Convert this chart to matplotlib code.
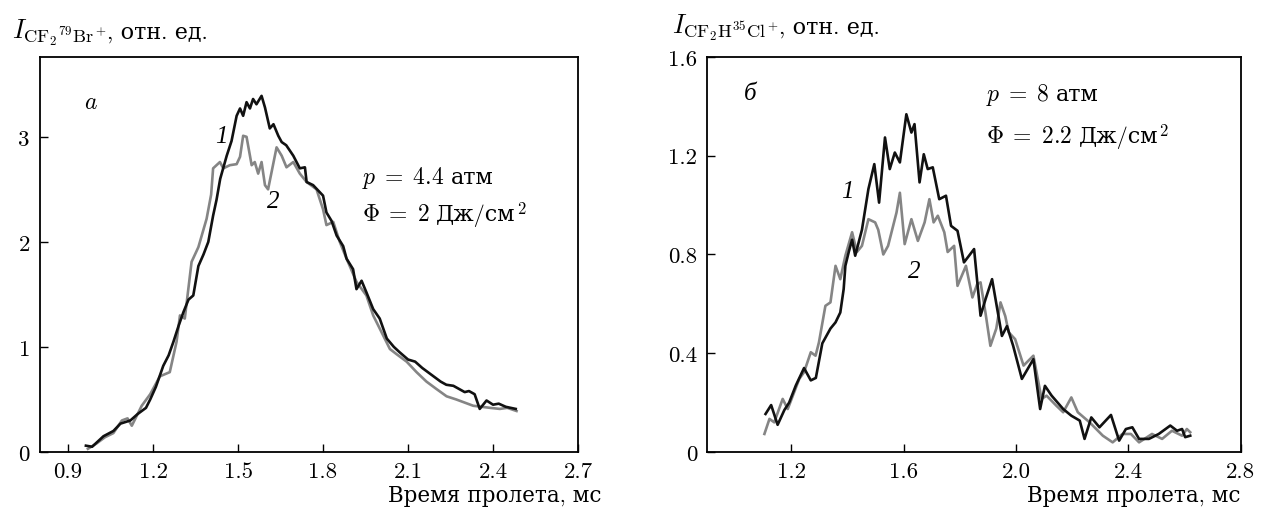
import numpy as np
from matplotlib import pyplot as plt
from matplotlib.offsetbox import TextArea, HPacker, AnnotationBbox

# панель а: CF2(79)Br+, p = 4.4 атм
t_a1 = [0.963, 0.985, 1.025, 1.06, 1.085, 1.12, 1.145, 1.175, 1.19, 1.21, 1.236, 1.255, 1.272, 1.29,
        1.307, 1.325, 1.342, 1.36, 1.378, 1.395, 1.412, 1.424, 1.437, 1.46, 1.477, 1.495, 1.507, 1.518,
        1.53, 1.542, 1.553, 1.565, 1.583, 1.595, 1.612, 1.625, 1.642, 1.654, 1.67, 1.695, 1.718, 1.736,
        1.742, 1.765, 1.8, 1.812, 1.83, 1.848, 1.871, 1.883, 1.906, 1.918, 1.936, 1.953, 1.977, 2.0,
        2.025, 2.05, 2.07, 2.1, 2.125, 2.15, 2.17, 2.19, 2.215, 2.235, 2.26, 2.28, 2.3, 2.315, 2.335,
        2.353, 2.377, 2.4, 2.42, 2.445, 2.48]
i_a1 = [0.06, 0.05, 0.15, 0.2, 0.27, 0.3, 0.36, 0.42, 0.5, 0.62, 0.82, 0.92, 1.05, 1.2,
        1.33, 1.45, 1.49, 1.77, 1.88, 2.0, 2.25, 2.4, 2.6, 2.82, 2.96, 3.2, 3.27, 3.2,
        3.33, 3.27, 3.36, 3.31, 3.39, 3.28, 3.08, 3.12, 3.01, 2.95, 2.92, 2.82, 2.7, 2.71,
        2.57, 2.54, 2.44, 2.28, 2.2, 2.06, 1.96, 1.84, 1.74, 1.55, 1.63, 1.52, 1.36, 1.27,
        1.08, 1.0, 0.95, 0.88, 0.86, 0.8, 0.76, 0.72, 0.67, 0.64, 0.63, 0.6, 0.57, 0.58, 0.55,
        0.41, 0.49, 0.45, 0.46, 0.43, 0.41]
t_a2 = [0.97, 1.0, 1.03, 1.06, 1.09, 1.11, 1.125, 1.16, 1.19, 1.224, 1.259, 1.283, 1.295, 1.312,
        1.336, 1.36, 1.389, 1.405, 1.412, 1.436, 1.448, 1.471, 1.495, 1.507, 1.518, 1.53, 1.542,
        1.548, 1.559, 1.571, 1.583, 1.595, 1.606, 1.618, 1.636, 1.654, 1.671, 1.695, 1.718, 1.742,
        1.777, 1.8, 1.812, 1.836, 1.859, 1.883, 1.918, 1.953, 1.977, 2.036, 2.06, 2.095, 2.13,
        2.165, 2.2, 2.236, 2.27, 2.3, 2.33, 2.36, 2.39, 2.424, 2.45, 2.483]
i_a2 = [0.03, 0.08, 0.14, 0.18, 0.3, 0.32, 0.25, 0.44, 0.55, 0.72, 0.76, 1.05, 1.3, 1.27,
        1.81, 1.95, 2.22, 2.45, 2.7, 2.76, 2.7, 2.73, 2.74, 2.81, 3.01, 3.0, 2.82,
        2.73, 2.76, 2.65, 2.76, 2.54, 2.5, 2.66, 2.9, 2.82, 2.71, 2.76, 2.65, 2.57,
        2.5, 2.31, 2.16, 2.19, 2.0, 1.84, 1.62, 1.49, 1.3, 0.98, 0.93, 0.86, 0.76,
        0.67, 0.6, 0.53, 0.5, 0.47, 0.44, 0.43, 0.42, 0.41, 0.42, 0.39]

# панель б: CF2H(35)Cl+, p = 8 атм
t_b1 = [1.109, 1.129, 1.152, 1.176, 1.193, 1.217, 1.246, 1.27, 1.288, 1.311, 1.34, 1.358, 1.375,
        1.387, 1.393, 1.405, 1.417, 1.428, 1.452, 1.475, 1.496, 1.513, 1.534, 1.551, 1.569, 1.587,
        1.61, 1.628, 1.639, 1.657, 1.672, 1.686, 1.704, 1.727, 1.751, 1.769, 1.792, 1.815, 1.851,
        1.874, 1.892, 1.915, 1.95, 1.968, 1.99, 2.021, 2.062, 2.086, 2.103, 2.127, 2.168, 2.197,
        2.227, 2.244, 2.268, 2.297, 2.338, 2.367, 2.391, 2.414, 2.438, 2.473, 2.508, 2.549, 2.573,
        2.591, 2.602, 2.62]
i_b1 = [0.154, 0.19, 0.11, 0.17, 0.2, 0.27, 0.34, 0.29, 0.3, 0.44, 0.5, 0.525, 0.565,
        0.66, 0.754, 0.81, 0.86, 0.795, 0.9, 1.065, 1.166, 1.01, 1.274, 1.146, 1.213, 1.173,
        1.368, 1.294, 1.328, 1.092, 1.206, 1.146, 1.153, 1.024, 1.038, 0.916, 0.896, 0.768, 0.822,
        0.552, 0.62, 0.7, 0.47, 0.51, 0.43, 0.296, 0.376, 0.174, 0.268, 0.228, 0.174, 0.147,
        0.127, 0.053, 0.14, 0.1, 0.15, 0.046, 0.093, 0.1, 0.053, 0.053, 0.073, 0.107, 0.086,
        0.093, 0.06, 0.066]
t_b2 = [1.105, 1.123, 1.14, 1.17, 1.188, 1.229, 1.246, 1.27, 1.287, 1.299, 1.322, 1.34, 1.358,
        1.375, 1.393, 1.417, 1.434, 1.452, 1.475, 1.499, 1.51, 1.528, 1.545, 1.575, 1.587, 1.604,
        1.628, 1.651, 1.675, 1.692, 1.707, 1.722, 1.745, 1.757, 1.78, 1.792, 1.822, 1.845, 1.862,
        1.874, 1.892, 1.909, 1.93, 1.945, 1.962, 1.974, 1.997, 2.027, 2.062, 2.091, 2.109, 2.144,
        2.168, 2.197, 2.22, 2.262, 2.309, 2.344, 2.379, 2.409, 2.438, 2.484, 2.52, 2.555, 2.591,
        2.608, 2.62]
i_b2 = [0.073, 0.134, 0.12, 0.215, 0.174, 0.296, 0.323, 0.404, 0.39, 0.444, 0.592, 0.606, 0.754,
        0.7, 0.795, 0.89, 0.81, 0.835, 0.943, 0.93, 0.9, 0.8, 0.835, 0.97, 1.05, 0.842,
        0.943, 0.855, 0.93, 1.024, 0.93, 0.957, 0.89, 0.81, 0.835, 0.673, 0.754, 0.626, 0.68,
        0.687, 0.56, 0.43, 0.5, 0.606, 0.55, 0.485, 0.457, 0.35, 0.39, 0.215, 0.228, 0.187,
        0.161, 0.221, 0.161, 0.12, 0.066, 0.039, 0.073, 0.073, 0.039, 0.073, 0.053, 0.086, 0.066,
        0.093, 0.08]

xticks_a = [0.9, 1.2, 1.5, 1.8, 2.1, 2.4, 2.7]
yticks_a = [0, 1, 2, 3]
xticks_b = [1.2, 1.6, 2.0, 2.4, 2.8]
yticks_b = [0, 0.4, 0.8, 1.2, 1.6]

plt.rcParams['font.family'] = ['cmr10', 'DejaVu Serif']
plt.rcParams['mathtext.fontset'] = 'cm'
plt.rcParams['axes.formatter.use_mathtext'] = True
plt.rcParams['font.size'] = 16.5
plt.rcParams['xtick.direction'] = 'in'
plt.rcParams['ytick.direction'] = 'in'

fig = plt.figure(figsize=(12.61, 5.10), dpi=100)
ax1 = fig.add_axes([0.0315, 0.1118, 0.4269, 0.7745])
ax2 = fig.add_axes([0.5605, 0.1118, 0.4235, 0.7745])

black = '#111111'
gray = '#858585'
ital = dict(family='Liberation Serif', style='italic', fontsize=18)


# формула (mathtext) + русский текст рядом, по базовой линии
def row(parts, sep):
    boxes = []
    for p in parts:
        if isinstance(p, tuple):
            boxes.append(TextArea(p[0], textprops=dict(fontsize=p[1])))
        else:
            boxes.append(p)
    return HPacker(children=boxes, align='baseline', pad=0, sep=sep)


def place(where, xy, box, coords='data', align=(0, 0.5)):
    ab = AnnotationBbox(box, xy, xycoords=coords, box_alignment=align,
                        frameon=False, pad=0)
    where.add_artist(ab)


def fluence(val):
    unit = row([('Дж/см', 16), (r'$^2$', 17)], 0)
    return row([(r'$\Phi\;=\;%s$' % val, 17), unit], 5)


ax1.plot(t_a2, i_a2, color=gray, lw=1.9)
ax1.plot(t_a1, i_a1, color=black, lw=1.9)
ax1.set_xlim(0.8, 2.7)
ax1.set_ylim(0, 3.76)
ax1.set_xticks(xticks_a)
ax1.set_xticklabels([f'{v:.1f}' for v in xticks_a])
ax1.set_yticks(yticks_a)
ax1.set_yticklabels([str(v) for v in yticks_a])
ax1.text(0.98, 3.33, '$a$', ha='center', va='center', fontsize=17)
ax1.text(1.442, 3.01, '1', ha='center', va='center', **ital)
ax1.text(1.624, 2.39, '2', ha='center', va='center', **ital)
place(ax1, (1.936, 2.62), row([(r'$p\;=\;4.4$', 17), ('атм', 16)], 5))
place(ax1, (1.936, 2.26), fluence('2'))

ax2.plot(t_b2, i_b2, color=gray, lw=1.9)
ax2.plot(t_b1, i_b1, color=black, lw=1.9)
ax2.set_xlim(0.9, 2.8)
ax2.set_ylim(0, 1.6)
ax2.set_xticks(xticks_b)
ax2.set_xticklabels([f'{v:.1f}' for v in xticks_b])
ax2.set_yticks(yticks_b)
ax2.set_yticklabels(['0', '0.4', '0.8', '1.2', '1.6'])
ax2.text(1.053, 1.456, 'б', ha='center', va='center', **ital)
ax2.text(1.399, 1.058, '1', ha='center', va='center', **ital)
ax2.text(1.639, 0.734, '2', ha='center', va='center', **ital)
place(ax2, (1.892, 1.449), row([(r'$p\;=\;8$', 17), ('атм', 16)], 5))
place(ax2, (1.892, 1.28), fluence('2.2'))

for ax in (ax1, ax2):
    for s in ax.spines.values():
        s.set_linewidth(1.3)
    ax.tick_params(length=6, width=1, pad=7)

place(fig, (0.0095, 0.905), row([(r'$I_{\mathrm{CF_2{}^{79}Br^+}}$', 19), (', отн. ед.', 16)], 0),
      coords='figure fraction', align=(0, 0))
place(fig, (0.533, 0.915), row([(r'$I_{\mathrm{CF_2H^{35}Cl^+}}$', 19), (', отн. ед.', 16)], 0),
      coords='figure fraction', align=(0, 0))
fig.text(0.477, 0.015, 'Время пролета, мс', ha='right', va='baseline', fontsize=15.5)
fig.text(0.984, 0.015, 'Время пролета, мс', ha='right', va='baseline', fontsize=15.5)

fig.savefig('out.png', dpi=100)
